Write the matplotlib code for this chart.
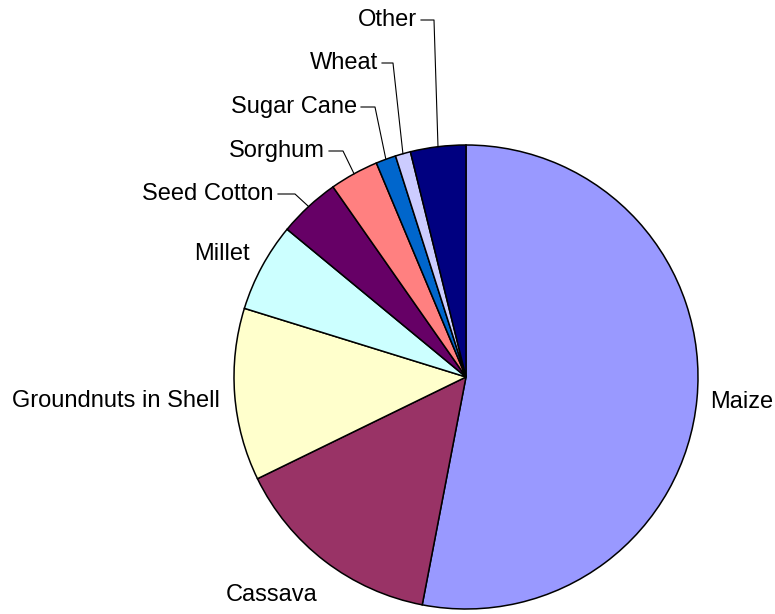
import numpy as np
import matplotlib
matplotlib.use('Agg')
from matplotlib import pyplot as plt

# crop shares (% of harvested area)
crops = ['Maize', 'Cassava', 'Groundnuts in Shell', 'Millet', 'Seed Cotton',
         'Sorghum', 'Sugar Cane', 'Wheat', 'Other']
shares = [53.0, 14.75, 12.0, 6.2, 4.3, 3.4, 1.4, 1.06, 3.85]
colors = ['#9999FF', '#993366', '#FFFFCC', '#CCFFFF', '#660066',
          '#FF8080', '#0066CC', '#CCCCFF', '#000080']

W, H = 775, 614
CX, CY, R = 466, 377, 232   # pie centre / radius in image pixels (y down)

plt.rcParams['font.family'] = ['Liberation Sans', 'DejaVu Sans']
fig = plt.figure(figsize=(W/100, H/100), dpi=100)
ax = fig.add_axes([0, 0, 1, 1])

wedges, _ = ax.pie(shares, colors=colors, startangle=90, counterclock=False,
                   center=(CX, H-CY), radius=R,
                   wedgeprops=dict(edgecolor='black', linewidth=1.1))
ax.set_xlim(0, W)
ax.set_ylim(0, H)
ax.set_aspect('equal')
ax.axis('off')

fs = 17
# big slices: plain labels (x, y, ha) in image pixels
plain = {'Maize': (710, 402, 'left'),
         'Cassava': (272, 595, 'center'),
         'Groundnuts in Shell': (220, 401, 'right'),
         'Millet': (222, 254, 'center')}
for name, (x, y, ha) in plain.items():
    ax.text(x, H-y, name, ha=ha, va='center', fontsize=fs)

# small slices: label end x, label y, elbow x for the leader line
leader = {'Seed Cotton': (274, 194, 295),
          'Sorghum': (325, 151, 343),
          'Sugar Cane': (357, 107, 375),
          'Wheat': (378, 63, 393),
          'Other': (417, 20, 434)}
for w, name in zip(wedges, crops):
    if name not in leader:
        continue
    tx, ty, ex = leader[name]
    mid = np.deg2rad((w.theta1 + w.theta2) / 2)
    px = CX + R*np.cos(mid)
    py = H-CY + R*np.sin(mid)
    ax.plot([tx+4, ex, px], [H-ty, H-ty, py], color='black', lw=0.8)
    ax.text(tx, H-ty, name, ha='right', va='center', fontsize=fs)

plt.savefig('out.png', dpi=100)
